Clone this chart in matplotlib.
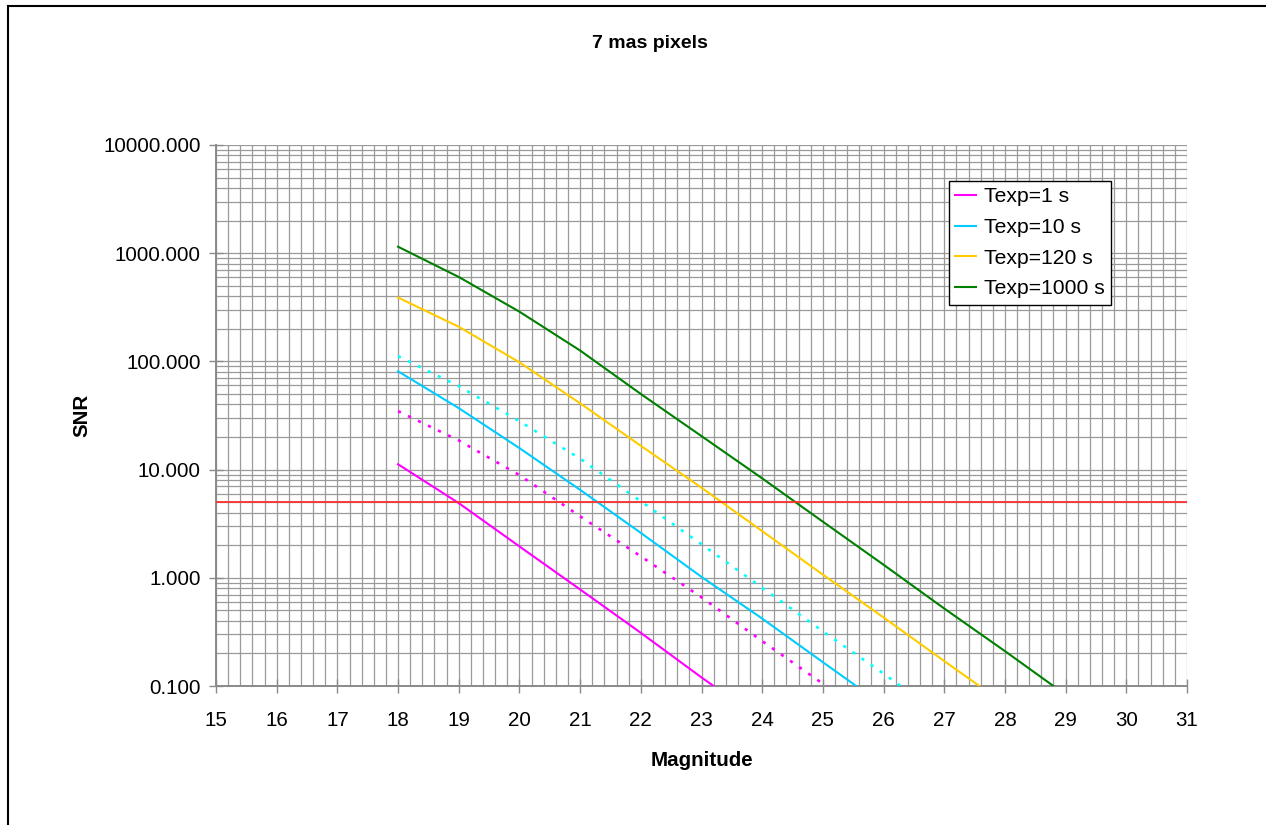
import matplotlib
matplotlib.use("Agg")
import matplotlib.pyplot as plt
from matplotlib.lines import Line2D
from matplotlib.ticker import FixedLocator, FuncFormatter, MultipleLocator
import numpy as np

plt.rcParams['font.family'] = ['Liberation Sans', 'DejaVu Sans']

# Datos
title = "7 mas pixels"
x_label = "Magnitude"
y_label = "SNR"

mag_1s = [18, 19, 20, 21, 22, 23, 24]
snr_1s = [11.2, 4.9, 1.95, 0.78, 0.31, 0.12, 0.048]

mag_1s_dot = [18, 19, 20, 21, 22, 23, 24, 25, 26]
snr_1s_dot = [34.7, 18.6, 8.9, 3.7, 1.58, 0.66, 0.26, 0.105, 0.042]

mag_10s = [18, 19, 20, 21, 22, 23, 24, 25, 26]
snr_10s = [81, 37, 15.8, 6.5, 2.6, 1.02, 0.42, 0.166, 0.066]

mag_10s_dot = [18, 19, 20, 21, 22, 23, 24, 25, 26, 27]
snr_10s_dot = [112, 59, 28, 12.6, 5.1, 2.04, 0.81, 0.32, 0.13, 0.051]

mag_120s = [18, 19, 20, 21, 22, 23, 24, 25, 26, 27, 28]
snr_120s = [389, 209, 98, 41, 16.6, 6.8, 2.7, 1.07, 0.43, 0.17, 0.068]

mag_1000s = [18, 19, 20, 21, 22, 23, 24, 25, 26, 27, 28, 29]
snr_1000s = [1148, 603, 288, 126, 50, 20.4, 8.3, 3.3, 1.32, 0.52, 0.21, 0.083]

snr_limit = 5
x_ticks = list(range(15, 32))
y_ticks = [0.1, 1, 10, 100, 1000, 10000]

W, H = 1266, 825
fig = plt.figure(figsize=(W / 100, H / 100), dpi=100)
ax = fig.add_axes([216 / W, 1 - 686 / H, (1187 - 216) / W, (686 - 145) / H])

fs = 14.8
grid_col = '#9a9a9a'

# Series
ax.plot(mag_1s, snr_1s, color='#FF00FF', lw=1.5, label='Texp=1 s', zorder=3)
ax.plot(mag_10s, snr_10s, color='#00CCFF', lw=1.5, label='Texp=10 s', zorder=3)
ax.plot(mag_120s, snr_120s, color='#FFCC00', lw=1.5, label='Texp=120 s', zorder=3)
ax.plot(mag_1000s, snr_1000s, color='#008000', lw=1.5, label='Texp=1000 s', zorder=3)
ax.plot(mag_1s_dot, snr_1s_dot, color='#FF00FF', lw=1.9, ls=(0, (1.2, 3.0)), zorder=3)
ax.plot(mag_10s_dot, snr_10s_dot, color='#00FFFF', lw=1.9, ls=(0, (1.2, 3.0)), zorder=3)
ax.axhline(snr_limit, color='#FF3030', lw=1.3, zorder=3)

# Ejes
ax.set_yscale('log')
ax.set_xlim(15, 31)
ax.set_ylim(0.1, 10000)
ax.xaxis.set_major_locator(FixedLocator(x_ticks))
ax.xaxis.set_minor_locator(MultipleLocator(0.2))
ax.yaxis.set_major_locator(FixedLocator(y_ticks))
ax.yaxis.set_minor_locator(matplotlib.ticker.LogLocator(base=10, subs=np.arange(2, 10)))
ax.yaxis.set_major_formatter(FuncFormatter(lambda v, p: f"{v:.3f}"))
ax.yaxis.set_minor_formatter(matplotlib.ticker.NullFormatter())

ax.grid(True, which='both', color=grid_col, lw=0.9, zorder=0)
ax.set_axisbelow(True)

for s in ['top', 'right']:
    ax.spines[s].set_visible(False)
for s in ['left', 'bottom']:
    ax.spines[s].set_color('#8a8a8a')
    ax.spines[s].set_linewidth(1.4)

ax.tick_params(which='major', direction='inout', length=10, width=1, color='#8a8a8a',
               labelsize=fs, labelcolor='black')
ax.tick_params(axis='x', which='major', pad=13)
ax.tick_params(axis='y', which='major', pad=6)
ax.tick_params(which='minor', length=0)

fig.text(702 / W, 1 - 760 / H, x_label, ha='center', va='center', fontsize=fs, fontweight='bold')
fig.text(82 / W, 1 - 415 / H, y_label, ha='center', va='center', rotation=90, fontsize=fs,
         fontweight='bold')
fig.text(650 / W, 1 - 48 / H, title, ha='center', va='baseline', fontsize=14, fontweight='bold')

leg = ax.legend(loc='upper left', bbox_to_anchor=((949 - 216) / (1187 - 216), (686 - 181) / (686 - 145)),
                fontsize=15.2, frameon=True, fancybox=False, shadow=False, handlelength=1.0,
                handletextpad=0.35, labelspacing=0.55, borderpad=0.3, borderaxespad=0)
leg.get_frame().set_edgecolor('black')
leg.get_frame().set_linewidth(1.0)
leg.get_frame().set_alpha(1)

# Marco exterior del grafico
fig.add_artist(Line2D([8 / W, 8 / W], [0, 1 - 6 / H], transform=fig.transFigure, color='black', lw=1.5))
fig.add_artist(Line2D([8 / W, 1], [1 - 6 / H, 1 - 6 / H], transform=fig.transFigure, color='black', lw=1.5))

fig.savefig('out.png', dpi=100)
